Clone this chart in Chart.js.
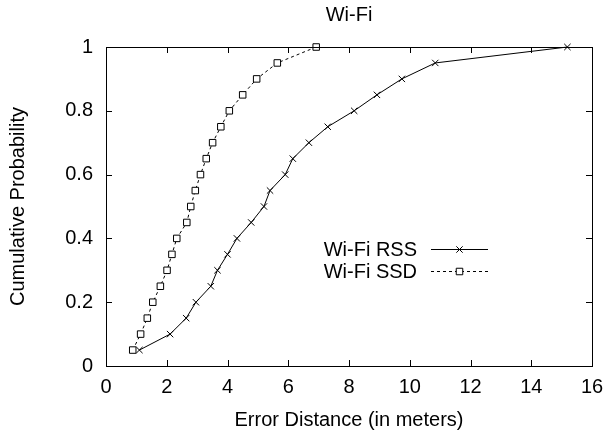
<!DOCTYPE html>
<html>
<head>
<meta charset="utf-8">
<script src="https://cdn.jsdelivr.net/npm/chart.js@4/dist/chart.umd.min.js"></script>
<style>
  html, body { margin: 0; padding: 0; background: #fff; }
  #wrap { width: 606px; height: 437px; }
</style>
</head>
<body>
<div id="wrap"><canvas id="c" width="606" height="437"></canvas></div>
<script>
// ---- data ----
const chartTitle = 'Wi-Fi';
const xAxisTitle = 'Error Distance (in meters)';
const yAxisTitle = 'Cumulative Probability';
const seriesNames = ['Wi-Fi RSS', 'Wi-Fi SSD'];
const cdfY = [0.05, 0.10, 0.15, 0.20, 0.25, 0.30, 0.35, 0.40, 0.45, 0.50,
              0.55, 0.60, 0.65, 0.70, 0.75, 0.80, 0.85, 0.90, 0.95, 1.00];
const rssX = [1.10, 2.11, 2.64, 2.96, 3.45, 3.67, 4.00, 4.31, 4.78, 5.20,
              5.40, 5.90, 6.15, 6.68, 7.30, 8.17, 8.92, 9.74, 10.84, 15.19];
const ssdX = [0.88, 1.14, 1.36, 1.54, 1.79, 2.01, 2.17, 2.33, 2.66, 2.79,
              2.94, 3.11, 3.30, 3.51, 3.78, 4.06, 4.50, 4.96, 5.64, 6.92];
const xTickLabels = ['0', '2', '4', '6', '8', '10', '12', '14', '16'];
const yTickLabels = ['0', '0.2', '0.4', '0.6', '0.8', '1'];

const FONT = 'Liberation Sans, Arial, Helvetica, sans-serif';
Chart.defaults.color = '#000';
Chart.defaults.font.family = FONT;

function pts(xs, ys) { return xs.map((x, i) => ({ x: x, y: ys[i] })); }

const bgPlugin = {
  id: 'bg',
  beforeDraw(chart) {
    const ctx = chart.ctx;
    ctx.save();
    ctx.fillStyle = '#fff';
    ctx.fillRect(0, 0, chart.width, chart.height);
    ctx.restore();
  }
};

// gnuplot-like frame with inward, mirrored ticks
const framePlugin = {
  id: 'frame',
  afterDatasetsDraw(chart) {
    const { ctx, chartArea: a, scales } = chart;
    const tl = 6;
    ctx.save();
    ctx.strokeStyle = '#000';
    ctx.lineWidth = 1;
    ctx.beginPath();
    scales.x.ticks.forEach(t => {
      const px = Math.round(scales.x.getPixelForValue(t.value)) + 0.5;
      ctx.moveTo(px, a.bottom); ctx.lineTo(px, a.bottom - tl);
      ctx.moveTo(px, a.top); ctx.lineTo(px, a.top + tl);
    });
    scales.y.ticks.forEach(t => {
      const py = Math.round(scales.y.getPixelForValue(t.value)) + 0.5;
      ctx.moveTo(a.left, py); ctx.lineTo(a.left + tl, py);
      ctx.moveTo(a.right, py); ctx.lineTo(a.right - tl, py);
    });
    ctx.stroke();
    ctx.strokeRect(Math.round(a.left) + 0.5, Math.round(a.top) + 0.5,
                   Math.round(a.right - a.left), Math.round(a.bottom - a.top));
    ctx.restore();
  }
};

// gnuplot-like key inside the plot: text right-aligned, then line sample with marker
const keyPlugin = {
  id: 'key',
  afterDraw(chart) {
    const { ctx, chartArea: a } = chart;
    const lineR = a.right - 104, lineL = lineR - 57, textR = lineL - 14;
    const rows = [a.top + 202, a.top + 224];
    ctx.save();
    ctx.font = '20px ' + FONT;
    ctx.textAlign = 'right';
    ctx.textBaseline = 'middle';
    chart.data.datasets.forEach((ds, i) => {
      const y = rows[i];
      ctx.fillStyle = '#000';
      ctx.fillText(ds.label, textR, y + 1);
      ctx.strokeStyle = ds.borderColor;
      ctx.lineWidth = ds.borderWidth;
      ctx.setLineDash(ds.borderDash || []);
      ctx.beginPath();
      ctx.moveTo(lineL, Math.round(y) + 0.5);
      ctx.lineTo(lineR, Math.round(y) + 0.5);
      ctx.stroke();
      ctx.setLineDash([]);
      const opts = {
        pointStyle: ds.pointStyle, radius: ds.pointRadius, rotation: 0,
        borderWidth: ds.pointBorderWidth
      };
      ctx.fillStyle = ds.pointBackgroundColor;
      ctx.strokeStyle = ds.pointBorderColor;
      ctx.lineWidth = ds.pointBorderWidth;
      Chart.helpers.drawPoint(ctx, opts, (lineL + lineR) / 2, Math.round(y) + 0.5);
    });
    ctx.restore();
  }
};

new Chart(document.getElementById('c'), {
  type: 'scatter',
  data: {
    datasets: [
      {
        label: seriesNames[0],
        data: pts(rssX, cdfY),
        showLine: true,
        borderColor: '#000',
        borderWidth: 1,
        pointStyle: 'crossRot',
        pointRadius: 4.5,
        pointBorderWidth: 1,
        pointBorderColor: '#000',
        pointBackgroundColor: '#000',
        tension: 0,
        clip: false
      },
      {
        label: seriesNames[1],
        data: pts(ssdX, cdfY),
        showLine: true,
        borderColor: '#000',
        borderWidth: 1,
        borderDash: [3, 3],
        pointStyle: 'rect',
        pointRadius: 4.6,
        pointBorderWidth: 1,
        pointBorderColor: '#000',
        pointBackgroundColor: '#fff',
        tension: 0,
        clip: false
      }
    ]
  },
  options: {
    responsive: false,
    maintainAspectRatio: false,
    devicePixelRatio: 1,
    animation: false,
    layout: { padding: { top: 0, left: 0, right: 14, bottom: 0 } },
    plugins: {
      legend: { display: false },
      tooltip: { enabled: false },
      title: {
        display: true,
        text: chartTitle,
        fullSize: false,
        font: { size: 20, weight: 'normal', family: FONT },
        color: '#000',
        padding: { top: 3, bottom: 20 }
      }
    },
    scales: {
      x: {
        type: 'linear',
        min: 0, max: 16,
        afterFit: s => { s.height = 71; s.paddingLeft = 0; s.paddingRight = 0; },
        grid: { display: false, drawTicks: false },
        border: { display: false },
        ticks: {
          stepSize: 2,
          padding: 9,
          font: { size: 20, family: FONT },
          color: '#000',
          maxRotation: 0,
          callback: (v, i) => xTickLabels[i]
        },
        title: {
          display: true,
          text: xAxisTitle,
          font: { size: 20, family: FONT },
          color: '#000',
          padding: { top: 0, bottom: 5 }
        }
      },
      y: {
        type: 'linear',
        min: 0, max: 1,
        afterFit: s => { s.width = 106; s.paddingTop = 0; s.paddingBottom = 0; },
        grid: { display: false, drawTicks: false },
        border: { display: false },
        ticks: {
          stepSize: 0.2,
          padding: 13,
          font: { size: 20, family: FONT },
          color: '#000',
          callback: (v, i) => yTickLabels[i]
        },
        title: {
          display: true,
          text: yAxisTitle,
          font: { size: 20, family: FONT },
          color: '#000',
          padding: { top: 6, bottom: 0 }
        }
      }
    }
  },
  plugins: [bgPlugin, framePlugin, keyPlugin]
});
</script>
</body>
</html>
